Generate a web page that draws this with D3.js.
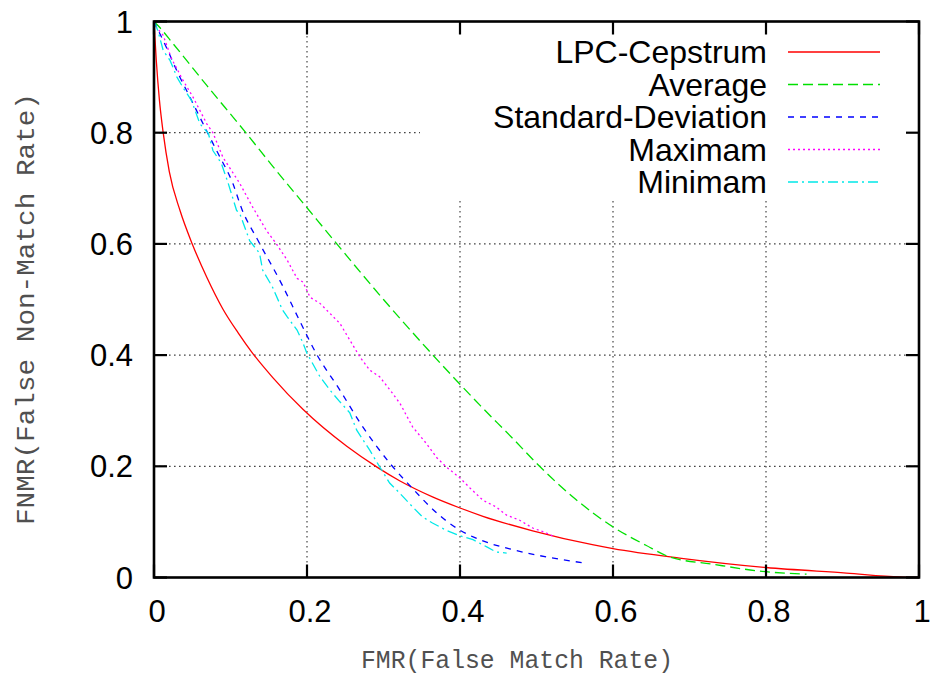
<!DOCTYPE html>
<html>
<head>
<meta charset="utf-8">
<script src="https://cdn.jsdelivr.net/npm/d3@7"></script>
<style>
  html, body { margin: 0; padding: 0; background: #fff; }
  svg { display: block; }
</style>
</head>
<body>
<svg id="chart" width="930" height="677"></svg>
<script>
// ---------------- DATA ----------------
const xTicks = [0, 0.2, 0.4, 0.6, 0.8, 1];
const yTicks = [0, 0.2, 0.4, 0.6, 0.8, 1];
const xTickLabels = ["0", "0.2", "0.4", "0.6", "0.8", "1"];
const yTickLabels = ["0", "0.2", "0.4", "0.6", "0.8", "1"];
const seriesNames = ["LPC-Cepstrum", "Average", "Standard-Deviation", "Maximam", "Minimam"];

const lpcCepstrum = [
  [0,1.0],[0.003,0.93],[0.007,0.86],[0.012,0.8],[0.02,0.73],[0.034,0.66],[0.05,0.6],
  [0.069,0.54],[0.09,0.483],[0.11,0.44],[0.128,0.405],[0.155,0.36],[0.195,0.302],
  [0.252,0.236],[0.292,0.198],[0.321,0.174],[0.364,0.145],[0.4,0.125],
  [0.43,0.11],[0.495,0.084],[0.573,0.059],[0.6,0.052],[0.687,0.035],[0.8,0.018],
  [0.905,0.008],[0.975,0.001],[1,0]
];
const average = [
  [0,1.0],[0.007,0.99],[0.025,0.96],[0.069,0.885],[0.12,0.8],[0.155,0.74],[0.2,0.665],
  [0.239,0.6],[0.3,0.5],[0.358,0.41],[0.426,0.31],[0.469,0.25],
  [0.504,0.2],[0.55,0.142],[0.6,0.091],[0.643,0.058],[0.674,0.037],
  [0.73,0.024],[0.795,0.011],[0.853,0.006]
];
const standardDeviation = [
  [0,1.0],[0.018,0.948],[0.031,0.908],[0.044,0.872],[0.057,0.836],[0.07,0.8],[0.084,0.762],
  [0.103,0.709],[0.115,0.662],[0.136,0.606],[0.168,0.525],[0.191,0.46],
  [0.212,0.403],[0.243,0.337],[0.271,0.275],[0.308,0.206],
  [0.338,0.16],[0.373,0.112],[0.4,0.085],[0.426,0.068],[0.469,0.05],[0.513,0.037],
  [0.563,0.026]
];
const maximam = [
  [0,1.0],[0.003,0.99],[0.012,0.975],[0.023,0.933],[0.038,0.894],[0.051,0.864],[0.069,0.816],
  [0.077,0.8],[0.09,0.756],[0.112,0.709],[0.129,0.666],[0.147,0.624],[0.16,0.6],
  [0.174,0.571],[0.187,0.538],[0.195,0.531],[0.204,0.504],[0.217,0.493],[0.23,0.475],
  [0.243,0.457],[0.256,0.427],[0.269,0.397],[0.282,0.373],[0.295,0.361],[0.312,0.331],
  [0.322,0.312],[0.338,0.271],[0.356,0.241],[0.37,0.215],[0.382,0.199],[0.4,0.179],
  [0.413,0.161],[0.43,0.139],[0.447,0.127],[0.461,0.112],[0.478,0.103],[0.495,0.089],
  [0.513,0.08],[0.524,0.073]
];
const minimam = [
  [0,1.0],[0.005,0.984],[0.012,0.948],[0.021,0.93],[0.03,0.9],[0.038,0.881],[0.049,0.858],
  [0.06,0.816],[0.071,0.799],[0.077,0.768],[0.088,0.745],[0.097,0.709],[0.108,0.66],
  [0.112,0.655],[0.125,0.606],[0.138,0.583],[0.142,0.553],[0.155,0.522],[0.168,0.481],
  [0.174,0.469],[0.187,0.445],[0.195,0.421],[0.2,0.403],[0.217,0.361],[0.23,0.337],
  [0.243,0.316],[0.256,0.296],[0.265,0.265],[0.282,0.229],[0.295,0.199],[0.308,0.17],
  [0.321,0.152],[0.338,0.127],[0.351,0.109],[0.364,0.098],[0.382,0.085],[0.4,0.075],
  [0.417,0.068],[0.435,0.055],[0.447,0.046],[0.461,0.044]
];
const seriesData = [lpcCepstrum, average, standardDeviation, maximam, minimam];

// ---------------- STYLE / LAYOUT ----------------
const colors = ["#ff0000", "#00e000", "#0000ff", "#ff00ff", "#00e8e8"];
const dashes = ["none", "10,5", "6,6", "2,3", "10,4,2,4"];
const smooth = [true, true, true, false, false];
const margin = { left: 154, right: 11, top: 21.5, bottom: 99.5 };
const W = 930, H = 677;

const svg = d3.select("#chart");
const x = d3.scaleLinear().domain([0, 1]).range([margin.left, W - margin.right]);
const y = d3.scaleLinear().domain([0, 1]).range([H - margin.bottom, margin.top]);

// legend region that interrupts the grid (in data units)
const legLeft = x.invert(420), legBottom = y.invert(200);

// ---------------- GRID ----------------
const grid = svg.append("g").attr("stroke", "#444").attr("stroke-width", 1.2)
  .attr("stroke-dasharray", "1.6,3.4");
yTicks.filter(v => v > 0 && v < 1).forEach(v => {
  const x2 = v > legBottom ? legLeft : 1;
  grid.append("line").attr("x1", x(0)).attr("x2", x(x2)).attr("y1", y(v)).attr("y2", y(v));
});
xTicks.filter(v => v > 0 && v < 1).forEach(v => {
  const y2 = v > legLeft ? legBottom : 1;
  grid.append("line").attr("x1", x(v)).attr("x2", x(v)).attr("y1", y(0)).attr("y2", y(y2));
});

// ---------------- CURVES ----------------
seriesData.forEach((data, i) => {
  const line = d3.line().x(d => x(d[0])).y(d => y(d[1]))
    .curve(smooth[i] ? d3.curveMonotoneX : d3.curveLinear);
  svg.append("path").datum(data).attr("d", line)
    .attr("fill", "none").attr("stroke", colors[i]).attr("stroke-width", 1.3)
    .attr("stroke-dasharray", dashes[i]);
});

// ---------------- FRAME & TICKS ----------------
const tickLen = 13;
const ticks = svg.append("g").attr("stroke", "#000").attr("stroke-width", 2.2);
xTicks.forEach(v => {
  ticks.append("line").attr("x1", x(v)).attr("x2", x(v)).attr("y1", y(0)).attr("y2", y(0) - tickLen);
  ticks.append("line").attr("x1", x(v)).attr("x2", x(v)).attr("y1", y(1)).attr("y2", y(1) + tickLen);
});
yTicks.forEach(v => {
  ticks.append("line").attr("x1", x(0)).attr("x2", x(0) + tickLen).attr("y1", y(v)).attr("y2", y(v));
  ticks.append("line").attr("x1", x(1)).attr("x2", x(1) - tickLen).attr("y1", y(v)).attr("y2", y(v));
});
svg.append("rect").attr("x", x(0)).attr("y", y(1))
  .attr("width", x(1) - x(0)).attr("height", y(0) - y(1))
  .attr("fill", "none").attr("stroke", "#000").attr("stroke-width", 2.6);

// ---------------- TICK LABELS ----------------
const labFont = "'Liberation Sans', Arial, Helvetica, sans-serif";
svg.append("g").selectAll("text").data(xTicks).join("text")
  .attr("x", d => x(d) + 3).attr("y", 622)
  .attr("text-anchor", "middle").attr("font-family", labFont).attr("font-size", 31)
  .attr("fill", "#000").text((d, i) => xTickLabels[i]);
svg.append("g").selectAll("text").data(yTicks).join("text")
  .attr("x", 133).attr("y", d => y(d) + 11)
  .attr("text-anchor", "end").attr("font-family", labFont).attr("font-size", 31)
  .attr("fill", "#000").text((d, i) => yTickLabels[i]);

// ---------------- AXIS TITLES ----------------
const monoFont = "'Liberation Mono', 'DejaVu Sans Mono', monospace";
svg.append("text").attr("x", 517).attr("y", 668).attr("text-anchor", "middle")
  .attr("font-family", monoFont).attr("font-size", 25).attr("fill", "#505050")
  .attr("textLength", 312).attr("lengthAdjust", "spacingAndGlyphs")
  .text("FMR(False Match Rate)");
svg.append("text").attr("transform", "translate(34,309) rotate(-90)")
  .attr("text-anchor", "middle")
  .attr("font-family", monoFont).attr("font-size", 25).attr("fill", "#505050")
  .attr("textLength", 432).attr("lengthAdjust", "spacingAndGlyphs")
  .text("FNMR(False Non-Match Rate)");

// ---------------- LEGEND ----------------
const legY0 = 52, legDy = 32.5;
const leg = svg.append("g");
seriesNames.forEach((name, i) => {
  const yy = legY0 + i * legDy;
  leg.append("text").attr("x", 767).attr("y", yy + 11).attr("text-anchor", "end")
    .attr("font-family", labFont).attr("font-size", 32).attr("fill", "#000").text(name);
  leg.append("line").attr("x1", 788).attr("x2", 880).attr("y1", yy).attr("y2", yy)
    .attr("stroke", colors[i]).attr("stroke-width", 1.3).attr("stroke-dasharray", dashes[i]);
});
</script>
</body>
</html>
